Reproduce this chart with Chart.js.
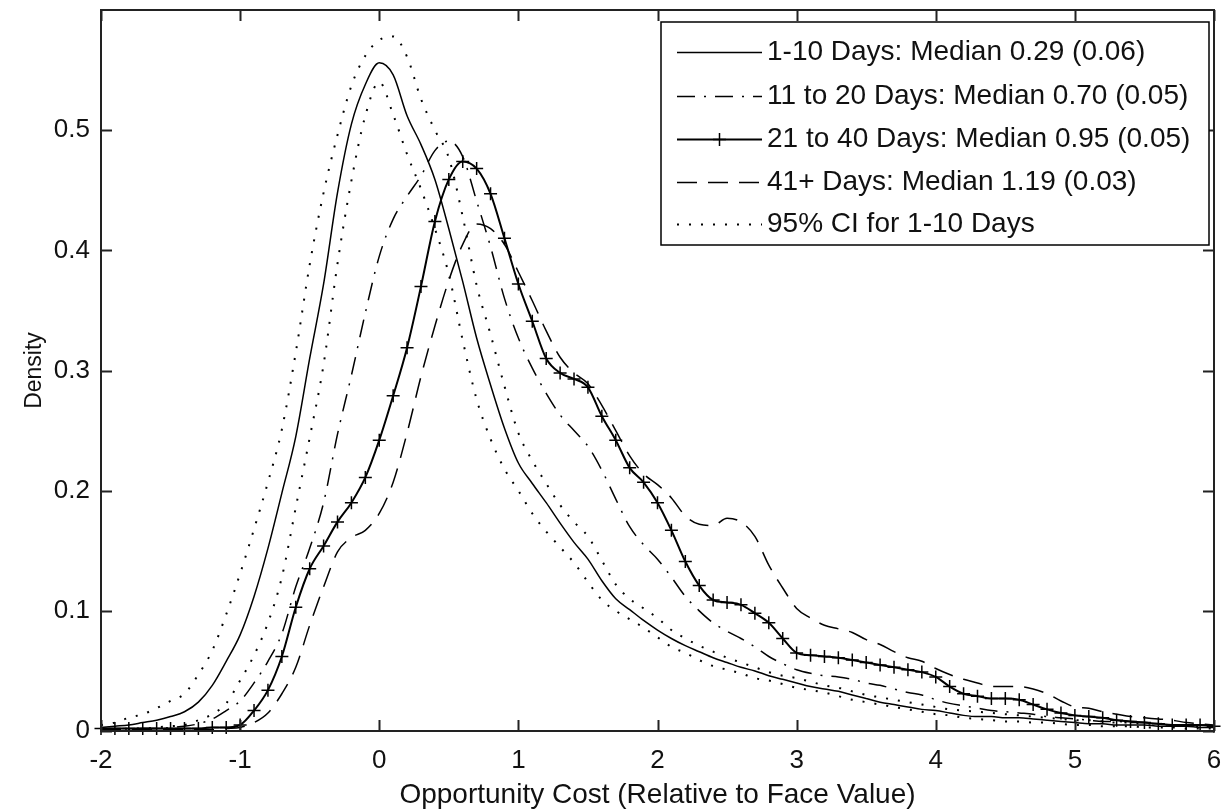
<!DOCTYPE html>
<html><head><meta charset="utf-8">
<script src="https://cdn.jsdelivr.net/npm/chart.js@4.4.0/dist/chart.umd.min.js"></script>
<style>html,body{margin:0;padding:0;background:#fff;}#wrap{width:1222px;height:812px;}</style>
</head><body><div id="wrap"><canvas id="c" width="1222" height="812"></canvas></div>
<script>
// ---- data ----
const xs = [-2,-1.9,-1.8,-1.7,-1.6,-1.5,-1.4,-1.3,-1.2,-1.1,-1,-0.9,-0.8,-0.7,-0.6,-0.5,-0.4,-0.3,-0.2,-0.1,0,0.1,0.2,0.3,0.4,0.5,0.6,0.7,0.8,0.9,1,1.1,1.2,1.3,1.4,1.5,1.6,1.7,1.8,1.9,2,2.1,2.2,2.3,2.4,2.5,2.6,2.7,2.8,2.9,3,3.1,3.2,3.3,3.4,3.5,3.6,3.7,3.8,3.9,4,4.1,4.2,4.3,4.4,4.5,4.6,4.7,4.8,4.9,5,5.1,5.2,5.3,5.4,5.5,5.6,5.7,5.8,5.9,6];

const days1to10 = [0.003,0.004,0.005,0.007,0.009,0.012,0.016,0.024,0.038,0.058,
0.080,0.112,0.152,0.198,0.245,0.310,0.372,0.448,0.505,0.538,
0.556,0.546,0.512,0.488,0.459,0.418,0.374,0.327,0.288,0.252,
0.223,0.206,0.190,0.173,0.157,0.143,0.125,0.110,0.101,0.092,
0.084,0.077,0.071,0.066,0.061,0.057,0.053,0.050,0.046,0.043,
0.040,0.037,0.035,0.033,0.030,0.027,0.024,0.022,0.020,0.018,
0.017,0.015,0.013,0.012,0.012,0.011,0.011,0.010,0.009,0.008,
0.007,0.006,0.006,0.005,0.005,0.005,0.004,0.004,0.004,0.003,
0.003];

const ciUpper = [0.005,0.007,0.011,0.014,0.019,0.025,0.031,0.047,0.067,0.097,
0.131,0.168,0.207,0.251,0.315,0.388,0.448,0.496,0.537,0.562,
0.575,0.578,0.561,0.526,0.500,0.477,0.428,0.371,0.330,0.287,
0.248,0.225,0.206,0.188,0.174,0.162,0.142,0.122,0.110,0.102,
0.094,0.084,0.077,0.071,0.066,0.061,0.057,0.053,0.049,0.046,
0.044,0.041,0.038,0.036,0.033,0.030,0.028,0.026,0.024,0.022,
0.020,0.018,0.017,0.016,0.015,0.014,0.013,0.012,0.011,0.010,
0.009,0.009,0.008,0.007,0.007,0.006,0.006,0.005,0.005,0.004,
0.004];

const ciLower = [0.001,0.001,0.002,0.002,0.003,0.004,0.005,0.009,0.014,0.023,
0.042,0.063,0.090,0.128,0.186,0.244,0.305,0.389,0.458,0.512,
0.540,0.513,0.480,0.451,0.418,0.380,0.325,0.276,0.243,0.218,
0.200,0.181,0.166,0.153,0.140,0.124,0.109,0.100,0.093,0.086,
0.078,0.070,0.065,0.059,0.054,0.051,0.048,0.044,0.042,0.039,
0.036,0.034,0.032,0.029,0.026,0.024,0.022,0.020,0.018,0.016,
0.014,0.013,0.011,0.010,0.009,0.008,0.008,0.007,0.007,0.006,
0.005,0.005,0.004,0.004,0.004,0.003,0.003,0.003,0.002,0.002,
0.002];

const days11to20 = [0.001,0.001,0.001,0.002,0.002,0.003,0.004,0.006,0.010,0.017,
0.025,0.040,0.058,0.081,0.120,0.152,0.190,0.247,0.296,0.348,
0.395,0.426,0.445,0.462,0.483,0.491,0.478,0.441,0.403,0.360,
0.327,0.302,0.281,0.263,0.250,0.237,0.217,0.193,0.170,0.155,
0.143,0.128,0.112,0.100,0.090,0.083,0.077,0.070,0.062,0.056,
0.051,0.048,0.046,0.045,0.043,0.040,0.038,0.035,0.032,0.030,
0.026,0.023,0.021,0.019,0.017,0.016,0.015,0.014,0.012,0.011,
0.010,0.009,0.008,0.008,0.007,0.007,0.006,0.005,0.005,0.004,
0.004];

const days21to40 = [0.002,0.002,0.002,0.002,0.002,0.002,0.002,0.002,0.003,0.003,
0.005,0.017,0.034,0.062,0.103,0.135,0.154,0.174,0.190,0.211,
0.242,0.279,0.319,0.370,0.424,0.459,0.474,0.468,0.447,0.410,
0.372,0.341,0.310,0.298,0.293,0.286,0.262,0.242,0.219,0.207,
0.190,0.167,0.141,0.121,0.109,0.107,0.105,0.098,0.090,0.077,
0.065,0.063,0.062,0.061,0.059,0.057,0.055,0.053,0.051,0.049,
0.045,0.037,0.031,0.029,0.027,0.027,0.026,0.022,0.018,0.015,
0.013,0.012,0.011,0.009,0.008,0.007,0.006,0.005,0.005,0.005,
0.004];

const days41plus = [0.001,0.001,0.001,0.001,0.001,0.001,0.001,0.001,0.001,0.002,
0.003,0.007,0.015,0.031,0.053,0.088,0.120,0.149,0.161,0.167,
0.181,0.207,0.248,0.295,0.337,0.375,0.405,0.422,0.418,0.405,
0.382,0.358,0.333,0.311,0.298,0.289,0.271,0.250,0.229,0.214,
0.205,0.194,0.179,0.172,0.171,0.177,0.174,0.162,0.138,0.119,
0.102,0.094,0.088,0.085,0.082,0.076,0.072,0.066,0.061,0.058,
0.052,0.047,0.043,0.040,0.037,0.037,0.037,0.035,0.031,0.025,
0.020,0.019,0.016,0.014,0.012,0.011,0.010,0.009,0.007,0.006,
0.005];

const xTicks = [-2,-1,0,1,2,3,4,5,6];
const yTicks = [0,0.1,0.2,0.3,0.4,0.5];
const legendLabels = [
  '1-10 Days: Median 0.29 (0.06)',
  '11 to 20 Days: Median 0.70 (0.05)',
  '21 to 40 Days: Median 0.95 (0.05)',
  '41+ Days: Median 1.19 (0.03)',
  '95% CI for 1-10 Days'
];
const xTitle = 'Opportunity Cost (Relative to Face Value)';
const yTitle = 'Density';

// ---- styles ----
const FONT = '"Liberation Sans", Arial, Helvetica, sans-serif';
const INK = '#000';
const DASH_DOT = [18, 9, 2, 9];
const DASHED = [20, 11];
const DOTTED = [2, 10];

const pts = arr => xs.map((x, i) => ({x: x, y: arr[i]}));
const base = {borderColor: INK, borderWidth: 1.5, pointRadius: 0, fill: false,
  cubicInterpolationMode: 'monotone', clip: false};

const datasets = [
  Object.assign({}, base, {label: legendLabels[4], data: pts(ciUpper), borderDash: DOTTED, borderWidth: 2}),
  Object.assign({}, base, {label: legendLabels[4] + ' (lower)', data: pts(ciLower), borderDash: DOTTED, borderWidth: 2}),
  Object.assign({}, base, {label: legendLabels[0], data: pts(days1to10)}),
  Object.assign({}, base, {label: legendLabels[1], data: pts(days11to20), borderDash: DASH_DOT}),
  Object.assign({}, base, {label: legendLabels[3], data: pts(days41plus), borderDash: DASHED}),
  Object.assign({}, base, {label: legendLabels[2], data: pts(days21to40), borderWidth: 2,
    pointStyle: 'cross', pointRadius: 6.5, pointBorderWidth: 1.5, pointBorderColor: INK, pointBackgroundColor: INK})
];

const TICK_LEN = 11;
const boxPlugin = {
  id: 'matlabBox',
  afterDraw(chart) {
    const {ctx, chartArea: a, scales} = chart;
    ctx.save();
    ctx.strokeStyle = '#222';
    ctx.lineWidth = 2;
    ctx.setLineDash([]);
    ctx.beginPath();
    xTicks.forEach(v => {
      const p = Math.round(scales.x.getPixelForValue(v)) + 0.5;
      ctx.moveTo(p, a.bottom); ctx.lineTo(p, a.bottom - TICK_LEN);
      ctx.moveTo(p, a.top); ctx.lineTo(p, a.top + TICK_LEN);
    });
    yTicks.forEach(v => {
      const p = Math.round(scales.y.getPixelForValue(v)) + 0.5;
      ctx.moveTo(a.left, p); ctx.lineTo(a.left + TICK_LEN, p);
      ctx.moveTo(a.right, p); ctx.lineTo(a.right - TICK_LEN, p);
    });
    ctx.stroke();
    ctx.strokeRect(a.left, a.top, a.right - a.left, a.bottom - a.top);

    // legend
    const L = {x: 661, y: 22, w: 548, h: 223};
    ctx.fillStyle = '#fff';
    ctx.fillRect(L.x, L.y, L.w, L.h);
    ctx.lineWidth = 1.5;
    ctx.strokeStyle = '#000';
    ctx.strokeRect(L.x, L.y, L.w, L.h);
    const rows = [
      {label: legendLabels[0], dash: [], w: 1.5},
      {label: legendLabels[1], dash: DASH_DOT, w: 1.5},
      {label: legendLabels[2], dash: [], w: 2, cross: true},
      {label: legendLabels[3], dash: DASHED, w: 1.5},
      {label: legendLabels[4], dash: DOTTED, w: 2}
    ];
    const rowY = [52, 96, 139, 182, 224];
    const x0 = 677, x1 = 762;
    ctx.font = '28px ' + FONT;
    ctx.textBaseline = 'middle';
    ctx.textAlign = 'left';
    rows.forEach((r, i) => {
      const y = rowY[i] + 0.5;
      ctx.strokeStyle = INK;
      ctx.lineWidth = r.w;
      ctx.setLineDash(r.dash);
      ctx.beginPath(); ctx.moveTo(x0, y); ctx.lineTo(x1, y); ctx.stroke();
      ctx.setLineDash([]);
      if (r.cross) {
        const cx = (x0 + x1) / 2;
        ctx.lineWidth = 1.5;
        ctx.beginPath();
        ctx.moveTo(cx - 6.5, y); ctx.lineTo(cx + 6.5, y);
        ctx.moveTo(cx, y - 6.5); ctx.lineTo(cx, y + 6.5);
        ctx.stroke();
      }
      ctx.fillStyle = '#111';
      ctx.fillText(r.label, 767, y);
    });
    ctx.restore();
  }
};

new Chart(document.getElementById('c'), {
  type: 'line',
  data: {datasets: datasets},
  plugins: [boxPlugin],
  options: {
    responsive: false,
    devicePixelRatio: 1,
    animation: false,
    events: [],
    layout: {padding: {left: 0, right: 4, top: 10, bottom: 0}},
    plugins: {legend: {display: false}, tooltip: {enabled: false}},
    scales: {
      x: {
        type: 'linear', min: -2, max: 6,
        afterBuildTicks: s => { s.ticks = xTicks.map(v => ({value: v})); },
        afterFit: s => { s.height = 81; s.paddingLeft = 0; s.paddingRight = 0; },
        grid: {display: false, drawTicks: false},
        border: {display: false},
        ticks: {font: {family: FONT, size: 26}, color: '#111', padding: 14, maxRotation: 0,
          autoSkip: false, callback: v => String(v)},
        title: {display: true, text: xTitle, font: {family: FONT, size: 28}, color: '#111',
          padding: {top: 0, bottom: 0}}
      },
      y: {
        type: 'linear', min: 0, max: 0.6,
        afterBuildTicks: s => { s.ticks = yTicks.map(v => ({value: v})); },
        afterFit: s => { s.width = 101; s.paddingTop = 0; s.paddingBottom = 0; },
        grid: {display: false, drawTicks: false},
        border: {display: false},
        ticks: {font: {family: FONT, size: 26}, color: '#111', padding: 11,
          callback: v => String(Math.round(v * 10) / 10)},
        title: {display: true, text: yTitle, font: {family: FONT, size: 23}, color: '#111',
          padding: {top: 21, bottom: 0}}
      }
    }
  }
});
</script>
</body></html>
